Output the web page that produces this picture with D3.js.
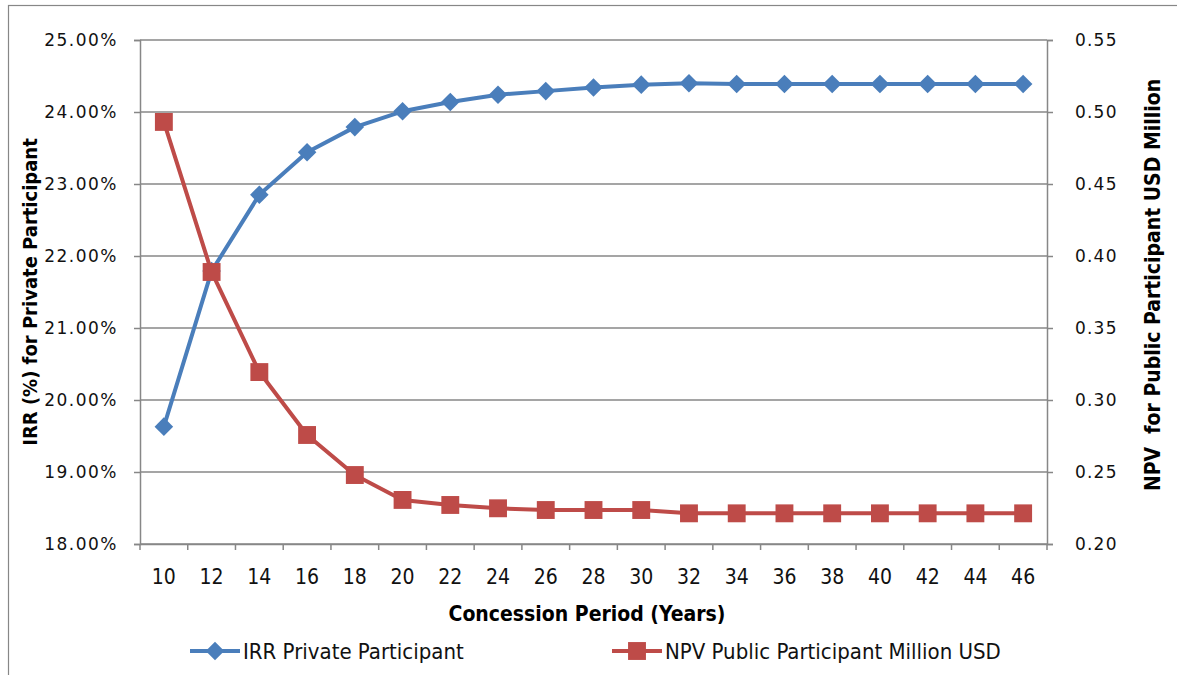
<!DOCTYPE html>
<html lang="en">
<head>
<meta charset="UTF-8">
<title>IRR and NPV vs concession period</title>
<script src="https://cdn.jsdelivr.net/npm/d3@7"></script>
<style>
  body { margin: 0; background: #fff; }
</style>
</head>
<body>
<script>
    // data
    var years = [10, 12, 14, 16, 18, 20, 22, 24, 26, 28, 30, 32, 34, 36, 38, 40, 42, 44, 46];
    var irr = [19.63, 21.79, 22.85, 23.44, 23.79, 24.01, 24.14, 24.24, 24.29, 24.34, 24.38, 24.40, 24.39, 24.39, 24.39, 24.39, 24.39, 24.39, 24.39];
    var npv = [0.4931, 0.3889, 0.3194, 0.2757, 0.2479, 0.2306, 0.2271, 0.2248, 0.2236, 0.2236, 0.2236, 0.2213, 0.2213, 0.2213, 0.2213, 0.2213, 0.2213, 0.2213, 0.2213];
    var leftTicks = [18, 19, 20, 21, 22, 23, 24, 25];
    var rightTicks = [0.20, 0.25, 0.30, 0.35, 0.40, 0.45, 0.50, 0.55];
    var seriesNames = ["IRR Private Participant", "NPV Public Participant Million USD"];

    var W = 1177, H = 675;
    var plot = {left: 140, right: 1047, top: 40, bottom: 544};
    var blue = "#4a7ebb", red = "#be4b48", grid = "#878787";
    var narrow = "'Liberation Sans Narrow', 'DejaVu Sans Condensed', sans-serif";

    var svg = d3.select("body").append("svg")
                .attr("width", W)
                .attr("height", H);

    // outer frame of the chart
    svg.append("rect")
       .attr("x", 8.5).attr("y", 5.5)
       .attr("width", 1300).attr("height", 800)
       .attr("fill", "none").attr("stroke", grid).attr("stroke-width", 1.2);

    var x = d3.scaleBand().domain(years).range([plot.left, plot.right]);
    var yL = d3.scaleLinear().domain([18, 25]).range([plot.bottom, plot.top]);
    var yR = d3.scaleLinear().domain([0.20, 0.55]).range([plot.bottom, plot.top]);
    var cx = function (d) { return x(d) + x.bandwidth() / 2; };

    // horizontal gridlines
    svg.append("g").selectAll("line")
       .data(leftTicks)
       .enter()
       .append("line")
       .attr("x1", plot.left).attr("x2", plot.right)
       .attr("y1", function (d) { return yL(d); })
       .attr("y2", function (d) { return yL(d); })
       .attr("stroke", grid).attr("stroke-width", 1.5);

    // left axis
    var axisL = d3.axisLeft(yL).tickValues(leftTicks)
                  .tickFormat(function (d) { return d.toFixed(2) + "%"; })
                  .tickSize(6).tickPadding(16);
    var gL = svg.append("g").attr("transform", "translate(" + plot.left + ",0)").call(axisL);

    // right axis
    var axisR = d3.axisRight(yR).tickValues(rightTicks)
                  .tickFormat(function (d) { return d.toFixed(2); })
                  .tickSize(6).tickPadding(22);
    var gR = svg.append("g").attr("transform", "translate(" + plot.right + ",0)").call(axisR);

    // bottom axis: labels centred on bands, ticks on band edges
    var axisB = d3.axisBottom(x).tickSize(0).tickPadding(25);
    var gB = svg.append("g").attr("transform", "translate(0," + plot.bottom + ")").call(axisB);
    gB.selectAll(".edge")
      .data(years.concat(["end"]))
      .enter()
      .append("line")
      .attr("x1", function (d) { return d === "end" ? plot.right : x(d); })
      .attr("x2", function (d) { return d === "end" ? plot.right : x(d); })
      .attr("y1", 0).attr("y2", 6)
      .attr("stroke", grid).attr("stroke-width", 1.5);

    [gL, gR, gB].forEach(function (g) {
        g.select(".domain").attr("stroke", grid).attr("stroke-width", 1.5);
        g.selectAll(".tick line").attr("stroke", grid).attr("stroke-width", 1.5);
    });
    gL.selectAll(".tick text").attr("font-family", "'DejaVu Sans', sans-serif")
      .attr("font-size", "17px").attr("letter-spacing", "1.5px").attr("fill", "#111");
    gR.selectAll(".tick text").attr("font-family", "'DejaVu Sans', sans-serif")
      .attr("font-size", "17px").attr("letter-spacing", "1.2px").attr("fill", "#111");
    gB.selectAll(".tick text").attr("font-family", narrow)
      .attr("font-size", "21px").attr("fill", "#111");

    // axis titles
    svg.append("text")
       .attr("transform", "translate(37,292) rotate(-90)")
       .attr("text-anchor", "middle")
       .attr("font-family", narrow).attr("font-weight", "bold").attr("font-size", "20px")
       .text("IRR (%) for Private Participant");
    svg.append("text")
       .attr("transform", "translate(1160,285) rotate(-90)")
       .attr("text-anchor", "middle")
       .attr("font-family", narrow).attr("font-weight", "bold").attr("font-size", "21px")
       .attr("xml:space", "preserve")
       .text("NPV  for Public Participant USD Million");
    svg.append("text")
       .attr("x", 587).attr("y", 621)
       .attr("text-anchor", "middle")
       .attr("font-family", narrow).attr("font-weight", "bold").attr("font-size", "21px")
       .text("Concession Period (Years)");

    // lines and markers, IRR first so NPV sits on top
    var lineL = d3.line().x(function (d, i) { return cx(years[i]); }).y(function (d) { return yL(d); });
    var lineR = d3.line().x(function (d, i) { return cx(years[i]); }).y(function (d) { return yR(d); });
    var diamond = d3.symbol().type(d3.symbolDiamond2).size(220);
    var square = d3.symbol().type(d3.symbolSquare).size(320);

    svg.append("path").attr("d", lineL(irr))
       .attr("fill", "none").attr("stroke", blue).attr("stroke-width", 4).attr("stroke-linejoin", "round");
    svg.append("g").selectAll("path")
       .data(irr)
       .enter()
       .append("path")
       .attr("d", diamond)
       .attr("transform", function (d, i) { return "translate(" + cx(years[i]) + "," + yL(d) + ")"; })
       .attr("fill", blue);

    svg.append("path").attr("d", lineR(npv))
       .attr("fill", "none").attr("stroke", red).attr("stroke-width", 4).attr("stroke-linejoin", "round");
    svg.append("g").selectAll("path")
       .data(npv)
       .enter()
       .append("path")
       .attr("d", square)
       .attr("transform", function (d, i) { return "translate(" + cx(years[i]) + "," + yR(d) + ")"; })
       .attr("fill", red);

    // legend
    var legend = [
        {name: seriesNames[0], color: blue, sym: diamond, x: 190},
        {name: seriesNames[1], color: red, sym: square, x: 612}
    ];
    var lg = svg.append("g").selectAll("g")
                .data(legend)
                .enter()
                .append("g")
                .attr("transform", function (d) { return "translate(" + d.x + ",651)"; });
    lg.append("line").attr("x1", 0).attr("x2", 50).attr("y1", 0).attr("y2", 0)
      .attr("stroke", function (d) { return d.color; }).attr("stroke-width", 4);
    lg.append("path").attr("d", function (d) { return d.sym(); })
      .attr("transform", "translate(25,0)")
      .attr("fill", function (d) { return d.color; });
    lg.append("text").attr("x", 53).attr("y", 8)
      .attr("font-family", narrow).attr("font-size", "22px").attr("fill", "#111")
      .text(function (d) { return d.name; });
</script>
</body>
</html>
